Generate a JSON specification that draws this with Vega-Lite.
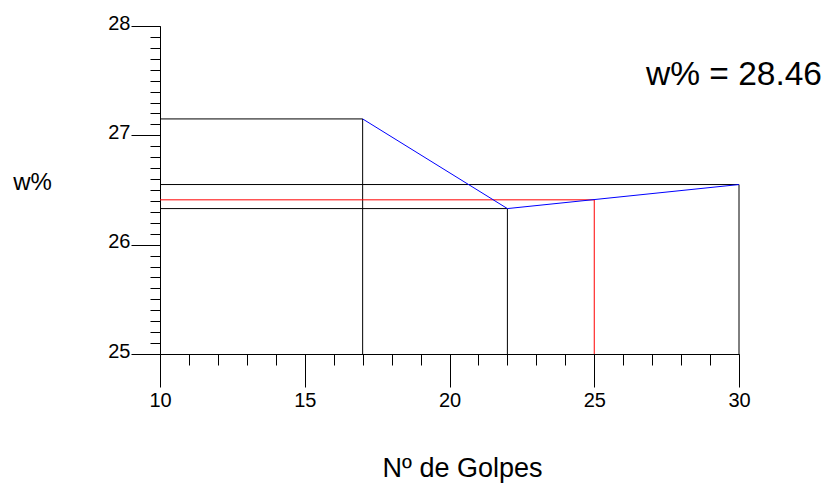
{
  "$schema": "https://vega.github.io/schema/vega-lite/v6.json",
  "width": 579,
  "height": 328,
  "autosize": {"type": "none"},
  "padding": {"left": 160, "top": 26, "right": 86, "bottom": 129},
  "background": "white",
  "config": {"font": "Liberation Sans", "view": {"stroke": null}},
  "title": {
    "text": "w% = 28.46",
    "anchor": "end",
    "frame": "group",
    "orient": "top",
    "fontSize": 33.5,
    "fontWeight": "normal",
    "font": "Liberation Sans",
    "color": "black",
    "baseline": "alphabetic",
    "offset": 0,
    "dy": 105,
    "dx": 83
  },
  "data": {
    "values": [
      {"golpes": 17, "w": 27.15, "tipo": "ensayo"},
      {"golpes": 22, "w": 26.33, "tipo": "ensayo"},
      {"golpes": 30, "w": 26.55, "tipo": "ensayo"},
      {"golpes": 25, "w": 26.41, "tipo": "interpolado"}
    ]
  },
  "resolve": {"axis": {"x": "independent", "y": "independent"}},
  "layer": [
    {
      "transform": [{"filter": "datum.tipo === 'ensayo'"}],
      "mark": {"type": "rule", "color": "black", "strokeWidth": 1},
      "encoding": {
        "x": {
          "field": "golpes",
          "type": "quantitative",
          "scale": {"domain": [10, 30], "nice": false, "zero": false},
          "axis": {
            "orient": "bottom",
            "values": [10, 15, 20, 25, 30],
            "tickSize": 33,
            "tickColor": "black",
            "domainColor": "black",
            "labelFontSize": 20,
            "labelColor": "black",
            "labelPadding": 3,
            "labelFlush": false,
            "grid": false,
            "title": "Nº de Golpes",
            "titleFontSize": 27,
            "titleFontWeight": "normal",
            "titleColor": "black",
            "titleBaseline": "alphabetic",
            "titleAnchor": "start",
            "titleAlign": "center",
            "titleX": 302,
            "titleY": 122
          }
        },
        "x2": {"datum": 10},
        "y": {
          "field": "w",
          "type": "quantitative",
          "scale": {"domain": [25, 28], "nice": false, "zero": false},
          "axis": {
            "orient": "left",
            "values": [25, 26, 27, 28],
            "tickSize": 29,
            "tickColor": "black",
            "domainColor": "black",
            "labelFontSize": 20,
            "labelColor": "black",
            "labelPadding": 1,
            "labelOffset": -3,
            "labelFlush": false,
            "grid": false,
            "title": "w%",
            "titleAngle": 0,
            "titleFontSize": 24,
            "titleFontWeight": "normal",
            "titleColor": "black",
            "titleAlign": "center",
            "titleBaseline": "alphabetic",
            "titleAnchor": "start",
            "titleX": -128,
            "titleY": 163
          }
        }
      }
    },
    {
      "transform": [{"filter": "datum.tipo === 'ensayo'"}],
      "mark": {"type": "rule", "color": "black", "strokeWidth": 1},
      "encoding": {
        "x": {
          "field": "golpes",
          "type": "quantitative",
          "axis": {
            "orient": "bottom",
            "values": [10, 11, 12, 13, 14, 15, 16, 17, 18, 19, 20, 21, 22, 23, 24, 25, 26, 27, 28, 29, 30],
            "tickSize": 11,
            "tickColor": "black",
            "domain": false,
            "labels": false,
            "grid": false,
            "title": null
          }
        },
        "y": {
          "field": "w",
          "type": "quantitative",
          "axis": {
            "orient": "left",
            "values": [25, 25.1, 25.2, 25.3, 25.4, 25.5, 25.6, 25.7, 25.8, 25.9, 26, 26.1, 26.2, 26.3, 26.4, 26.5, 26.6, 26.7, 26.8, 26.9, 27, 27.1, 27.2, 27.3, 27.4, 27.5, 27.6, 27.7, 27.8, 27.9, 28],
            "tickSize": 10,
            "tickColor": "black",
            "domain": false,
            "labels": false,
            "grid": false,
            "title": null
          }
        },
        "y2": {"datum": 25}
      }
    },
    {
      "transform": [{"filter": "datum.tipo === 'interpolado'"}],
      "mark": {"type": "rule", "color": "red", "strokeWidth": 1},
      "encoding": {
        "x": {"field": "golpes", "type": "quantitative", "axis": null},
        "x2": {"datum": 10},
        "y": {"field": "w", "type": "quantitative", "axis": null}
      }
    },
    {
      "transform": [{"filter": "datum.tipo === 'interpolado'"}],
      "mark": {"type": "rule", "color": "red", "strokeWidth": 1},
      "encoding": {
        "x": {"field": "golpes", "type": "quantitative", "axis": null},
        "y": {"field": "w", "type": "quantitative", "axis": null},
        "y2": {"datum": 25}
      }
    },
    {
      "transform": [{"filter": "datum.tipo === 'ensayo'"}],
      "mark": {"type": "line", "color": "blue", "strokeWidth": 1},
      "encoding": {
        "x": {"field": "golpes", "type": "quantitative", "axis": null},
        "y": {"field": "w", "type": "quantitative", "axis": null}
      }
    }
  ]
}
